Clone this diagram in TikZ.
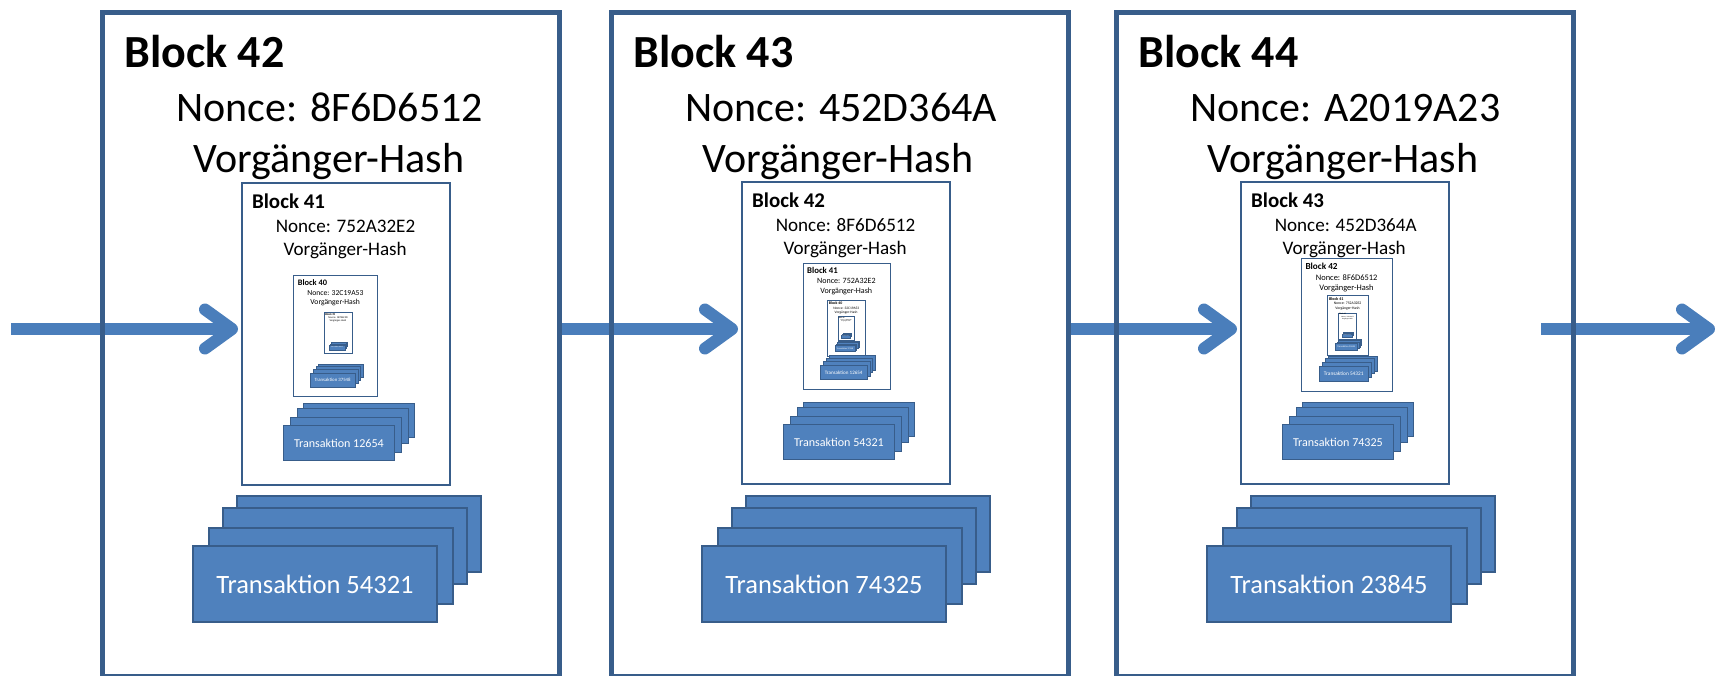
\documentclass[tikz,border=0pt]{standalone}
\usepackage{fontspec}
\setmainfont{Carlito}
\usetikzlibrary{arrows.meta}

\definecolor{frameblue}{HTML}{385D8A}
\definecolor{txfill}{HTML}{4F81BD}
\definecolor{flowblue}{HTML}{4A7EBB}

\pgfdeclarelayer{back}
\pgfsetlayers{back,main}

\tikzset{
  frame/.style={draw=frameblue, rectangle, minimum width=457pt, minimum height=664pt,
    inner sep=0pt, outer sep=0pt},
  titletext/.style={font=\fontsize{46}{55}\selectfont\bfseries, inner sep=0pt, anchor=base west},
  bodytext/.style={font=\fontsize{42}{50}\selectfont, inner sep=0pt, anchor=base west},
  txcard/.style={rectangle, fill=txfill, draw=frameblue, minimum width=244pt,
    minimum height=76pt, inner sep=0pt, outer sep=0pt},
  txlabel/.style={text=white, font=\fontsize{26.5}{32}\selectfont},
  flow/.style={draw=flowblue, line width=12pt,
    -{Straight Barb[length=27pt,width=39pt,round]}},
}

% One block: frame, title, nonce, hash, nested predecessor (#7), transaction stack.
% #1 name, #2 number, #3 nonce, #4 transaction, #5 frame width, #6 card border width
\newcommand\chainblock[7]{%
  \node[frame, line width=#5] (#1) at (228.5,332) {};
  \node[titletext] (#1-title) at (22,55) {Block #2};
  \node[bodytext] (#1-nonce) at (74,109) {Nonce: #3};
  \node[bodytext] (#1-hash) at (91,160) {Vorgänger-Hash};
  #7
  \node[txcard, line width=#6] (#1-t4) at (257,522) {};
  \node[txcard, line width=#6] (#1-t3) at (243,534) {};
  \node[txcard, line width=#6] (#1-t2) at (229,554) {};
  \node[txcard, txlabel, line width=#6] (#1-t1) at (213,572) {Transaktion #4};
}

\begin{document}
\begin{tikzpicture}[x=1pt, y=-1pt, every node/.append style={transform shape}]
\useasboundingbox (0,0) rectangle (1715,675);

% Block 42
\begin{scope}[shift={(102,12)}]
  \chainblock{o1}{42}{8F6D6512}{54321}{5pt}{2pt}{%
    \begin{scope}[shift={(140,171)}, scale=0.455]
      \chainblock{o1a}{41}{752A32E2}{12654}{1.6pt}{1pt}{%
        \begin{scope}[shift={(114,204)}, scale=0.40]
          \chainblock{o1b}{40}{32C19A53}{37548}{0.9pt}{0.5pt}{%
            \begin{scope}[shift={(165,198)}, scale=0.34]
              \chainblock{o1c}{39}{1B7E6C2D}{20917}{0.5pt}{0.2pt}{}
            \end{scope}}
        \end{scope}}
    \end{scope}}
\end{scope}

% Block 43
\begin{scope}[shift={(611,12)}]
  \chainblock{o2}{43}{452D364A}{74325}{5pt}{2pt}{%
    \begin{scope}[shift={(131,170)}, scale=0.455]
      \chainblock{o2a}{42}{8F6D6512}{54321}{2pt}{1pt}{%
        \begin{scope}[shift={(134,178)}, scale=0.42]
          \chainblock{o2b}{41}{752A32E2}{12654}{0.9pt}{0.5pt}{%
            \begin{scope}[shift={(126,195)}, scale=0.44]
              \chainblock{o2c}{40}{32C19A53}{37548}{0.5pt}{0.2pt}{%
                \begin{scope}[shift={(130,190)}, scale=0.42]
                  \chainblock{o2d}{39}{1B7E6C2D}{20917}{0.3pt}{0.1pt}{}
                \end{scope}}
            \end{scope}}
        \end{scope}}
    \end{scope}}
\end{scope}

% Block 44
\begin{scope}[shift={(1116,12)}]
  \chainblock{o3}{44}{A2019A23}{23845}{5pt}{2pt}{%
    \begin{scope}[shift={(125,170)}, scale=0.455]
      \chainblock{o3a}{43}{452D364A}{74325}{1.8pt}{1pt}{%
        \begin{scope}[shift={(132,169)}, scale=0.44]
          \chainblock{o3b}{42}{8F6D6512}{54321}{0.9pt}{0.5pt}{%
            \begin{scope}[shift={(130,181)}, scale=0.45]
              \chainblock{o3c}{41}{752A32E2}{12654}{0.5pt}{0.2pt}{%
                \begin{scope}[shift={(126,195)}, scale=0.44]
                  \chainblock{o3d}{40}{32C19A53}{37548}{0.3pt}{0.1pt}{}
                \end{scope}}
            \end{scope}}
        \end{scope}}
    \end{scope}}
\end{scope}

% Links between the blocks, beneath the frames
\begin{pgfonlayer}{back}
  \coordinate (src) at (11,329);
  \coordinate (out) at (1541,329);
  \coordinate (sink) at (1715,329);
  \draw[flow, shorten >=4pt] (src) -- (src -| o1a.west);
  \draw[flow, shorten <=3pt, shorten >=4pt] (o1.east |- src) -- (src -| o2a.west);
  \draw[flow, shorten <=3pt, shorten >=4pt] (o2.east |- src) -- (src -| o3a.west);
  \draw[flow] (out) -- (sink);
\end{pgfonlayer}
\end{tikzpicture}
\end{document}
